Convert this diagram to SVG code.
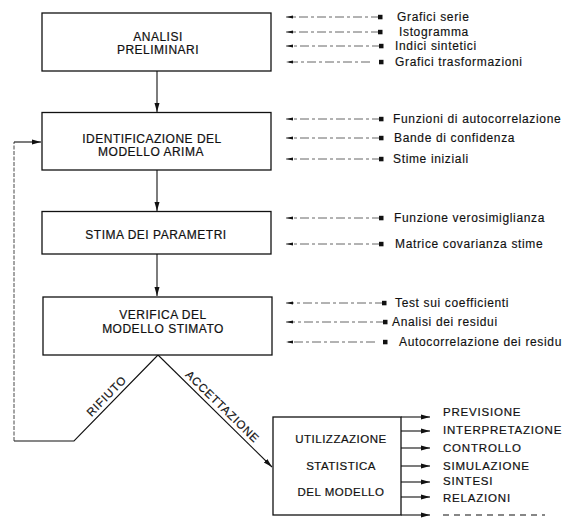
<svg xmlns="http://www.w3.org/2000/svg" width="563" height="519" viewBox="0 0 563 519">
<style>
.box{fill:#fff;stroke:#111;stroke-width:1.3}
.bt{font-family:"Liberation Sans",Arial,sans-serif;font-size:12px;letter-spacing:0.5px;fill:#111;stroke:#111;stroke-width:0.2;text-anchor:middle}
.at{font-family:"Liberation Sans",Arial,sans-serif;font-size:12px;letter-spacing:0.65px;fill:#111;stroke:#111;stroke-width:0.15}
.ot{font-family:"Liberation Sans",Arial,sans-serif;font-size:11.5px;letter-spacing:0.8px;fill:#111;stroke:#111;stroke-width:0.2}
.ln{stroke:#111;stroke-width:1.1;fill:none}
.dl{stroke:#555;stroke-width:0.9;fill:none;stroke-dasharray:9 3 3 3}
.fb{stroke:#333;stroke-width:0.9;fill:none;stroke-dasharray:4 1.5}
.sq{fill:#111}
</style>
<defs>
<marker id="ah" markerWidth="10" markerHeight="8" refX="9" refY="4" orient="auto" markerUnits="userSpaceOnUse">
<path d="M0,1.5 L9,4 L0,6.5 Z" fill="#111"/>
</marker>
<marker id="ahs" markerWidth="8" markerHeight="6" refX="7" refY="3" orient="auto" markerUnits="userSpaceOnUse">
<path d="M0,1.6 L7,3 L0,4.4 Z" fill="#111"/>
</marker>
</defs>

<g id="connectors">
<line class="ln" x1="157" y1="71" x2="157" y2="112" marker-end="url(#ah)"/>
<line class="ln" x1="157" y1="170" x2="157" y2="211" marker-end="url(#ah)"/>
<line class="ln" x1="157" y1="254" x2="157" y2="296" marker-end="url(#ah)"/>
<polyline class="ln" points="158,355 74,441 14,441"/>
<line class="fb" x1="14" y1="441" x2="14" y2="142"/>
<line class="ln" x1="14" y1="142" x2="41" y2="142" marker-end="url(#ah)"/>
<line class="ln" x1="158" y1="355" x2="272" y2="467" marker-end="url(#ah)"/>
<line class="ln" x1="401" y1="417" x2="430" y2="417" marker-end="url(#ah)"/>
<line class="ln" x1="401" y1="431" x2="430" y2="431" marker-end="url(#ah)" stroke-width="0.8"/>
<line class="ln" x1="401" y1="448" x2="430" y2="448" marker-end="url(#ah)" stroke-width="0.8"/>
<line class="ln" x1="401" y1="466" x2="430" y2="466" marker-end="url(#ah)" stroke-width="0.8"/>
<line class="ln" x1="401" y1="482" x2="430" y2="482" marker-end="url(#ah)" stroke-width="0.8"/>
<line class="ln" x1="401" y1="497" x2="430" y2="497" marker-end="url(#ah)" stroke-width="0.8"/>
<line class="ln" x1="401" y1="515" x2="430" y2="515" marker-end="url(#ah)"/>
<line class="ln" x1="443" y1="515" x2="545" y2="515" stroke-dasharray="6 5"/>
<g>
<line class="dl" x1="380" y1="17" x2="286" y2="17" marker-end="url(#ahs)"/>
<line class="dl" x1="380" y1="32" x2="286" y2="32" marker-end="url(#ahs)"/>
<line class="dl" x1="381" y1="46" x2="286" y2="46" marker-end="url(#ahs)"/>
<line class="dl" x1="370" y1="62" x2="286" y2="62" marker-end="url(#ahs)"/>
<line class="dl" x1="381" y1="119" x2="286" y2="119" marker-end="url(#ahs)"/>
<line class="dl" x1="381" y1="138" x2="286" y2="138" marker-end="url(#ahs)"/>
<line class="dl" x1="381" y1="159" x2="286" y2="159" marker-end="url(#ahs)"/>
<line class="dl" x1="381" y1="218" x2="286" y2="218" marker-end="url(#ahs)"/>
<line class="dl" x1="381" y1="244" x2="286" y2="244" marker-end="url(#ahs)"/>
<line class="dl" x1="384" y1="303" x2="286" y2="303" marker-end="url(#ahs)"/>
<line class="dl" x1="385" y1="322" x2="286" y2="322" marker-end="url(#ahs)"/>
<line class="dl" x1="375" y1="342" x2="286" y2="342" marker-end="url(#ahs)"/>
<rect class="sq" x="378" y="14.8" width="4.5" height="4.5"/>
<rect class="sq" x="378" y="29.8" width="4.5" height="4.5"/>
<rect class="sq" x="379" y="43.8" width="4.5" height="4.5"/>
<rect class="sq" x="379" y="59.8" width="4.5" height="4.5"/>
<rect class="sq" x="379" y="116.8" width="4.5" height="4.5"/>
<rect class="sq" x="379" y="135.8" width="4.5" height="4.5"/>
<rect class="sq" x="379" y="156.8" width="4.5" height="4.5"/>
<rect class="sq" x="379" y="215.8" width="4.5" height="4.5"/>
<rect class="sq" x="379" y="241.8" width="4.5" height="4.5"/>
<rect class="sq" x="382" y="300.8" width="4.5" height="4.5"/>
<rect class="sq" x="383" y="319.8" width="4.5" height="4.5"/>
<rect class="sq" x="383" y="339.8" width="4.5" height="4.5"/>
</g>
<text class="ot" transform="translate(109.4,398.8) rotate(-45.7)" text-anchor="middle">RIFIUTO</text>
<text class="ot" transform="translate(219.7,409.4) rotate(44.2)" text-anchor="middle">ACCETTAZIONE</text>
</g>

<g id="analisi">
<rect class="box" x="42" y="13" width="229" height="58"/>
<text class="bt" x="158" y="40.5">ANALISI</text>
<text class="bt" x="158" y="54">PRELIMINARI</text>
</g>
<g id="identificazione">
<rect class="box" x="42" y="112.5" width="229" height="57.5"/>
<text class="bt" x="152" y="142.5">IDENTIFICAZIONE DEL</text>
<text class="bt" x="151" y="156">MODELLO ARIMA</text>
</g>
<g id="stima">
<rect class="box" x="42" y="211.5" width="229" height="42.5"/>
<text class="bt" x="156" y="239">STIMA DEI PARAMETRI</text>
</g>
<g id="verifica">
<rect class="box" x="43" y="297" width="229" height="58"/>
<text class="bt" x="163" y="319.3">VERIFICA DEL</text>
<text class="bt" x="163" y="332.8">MODELLO STIMATO</text>
</g>
<g id="utilizzazione">
<rect class="box" x="273" y="417" width="128" height="98"/>
<text class="bt" x="341" y="443" style="font-size:11.5px">UTILIZZAZIONE</text>
<text class="bt" x="341" y="470" style="font-size:11.5px">STATISTICA</text>
<text class="bt" x="341" y="496" style="font-size:11.5px">DEL MODELLO</text>
</g>

<g id="annotations">
<text class="at" x="397" y="21">Grafici serie</text>
<text class="at" x="399" y="36">Istogramma</text>
<text class="at" x="395" y="50">Indici sintetici</text>
<text class="at" x="395" y="66">Grafici trasformazioni</text>
<text class="at" x="393" y="123">Funzioni di autocorrelazione</text>
<text class="at" x="394" y="142">Bande di confidenza</text>
<text class="at" x="393" y="163">Stime iniziali</text>
<text class="at" x="394" y="222">Funzione verosimiglianza</text>
<text class="at" x="395" y="248">Matrice covarianza stime</text>
<text class="at" x="395" y="307">Test sui coefficienti</text>
<text class="at" x="392" y="326">Analisi dei residui</text>
<text class="at" x="399" y="346">Autocorrelazione dei residu</text>
</g>

<g id="outputs">
<text class="ot" x="443" y="416">PREVISIONE</text>
<text class="ot" x="443" y="434">INTERPRETAZIONE</text>
<text class="ot" x="443" y="452">CONTROLLO</text>
<text class="ot" x="443" y="470">SIMULAZIONE</text>
<text class="ot" x="443" y="485">SINTESI</text>
<text class="ot" x="443" y="502">RELAZIONI</text>
</g>
</svg>
